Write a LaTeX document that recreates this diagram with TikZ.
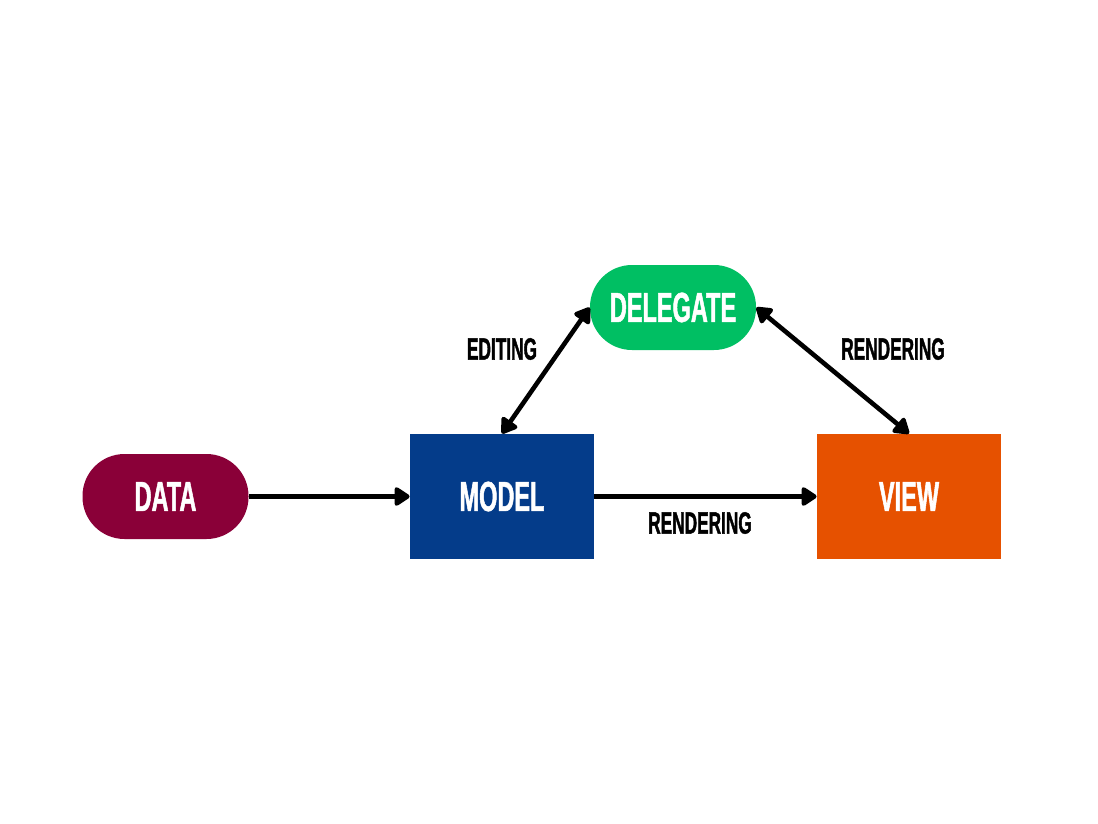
\documentclass[tikz,border=0pt]{standalone}
\usepackage{fontspec}
\setmainfont{Liberation Sans}[FakeStretch=0.56, BoldFeatures={FakeBold=1.2}]
\usetikzlibrary{shapes}
\usetikzlibrary{arrows.meta}

\definecolor{datared}{HTML}{8A0038}
\definecolor{modelblue}{HTML}{043C8A}
\definecolor{viewred}{HTML}{E65100}
\definecolor{delegategreen}{HTML}{00BF63}

\begin{document}
\begin{tikzpicture}[x=0.5pt, y=-0.5pt]

\tikzstyle{pill}=[rectangle, rounded corners=21pt, minimum width=83pt, minimum height=42.5pt, inner sep=0pt, text=white, font=\bfseries\fontsize{21}{21}\selectfont]
\tikzstyle{box}=[rectangle, minimum width=92pt, minimum height=62.5pt, inner sep=0pt, text=white, font=\bfseries\fontsize{21}{21}\selectfont]
\tikzstyle{lbl}=[font=\bfseries\fontsize{15.4}{15.4}\selectfont]

\tikzstyle{connect}=[-{Triangle[length=8.5pt,width=10.5pt,round]}, line width=2.3pt, line join=round]
\tikzstyle{both}=[{Triangle[length=8.5pt,width=10.5pt,round]}-{Triangle[length=8.5pt,width=10.5pt,round]}, line width=2.3pt, line join=round]

\useasboundingbox (0,0) rectangle (1098,824);

\node[pill, fill=datared] (data) at (165.5,496.5) {DATA};
\node[box, fill=modelblue] (model) at (502,496.5) {MODEL};
\node[box, fill=viewred] (view) at (909,496.5) {VIEW};
\node[pill, fill=delegategreen] (delegate) at (673,307.5) {DELEGATE};

\node[lbl] (editing) at (502,349) {EDITING};
\node[lbl] (render1) at (893,349) {RENDERING};
\node[lbl] (render2) at (700,523) {RENDERING};

\path (data) [connect] edge (model);
\path (model) [connect] edge (view);

\path (model.north) [both] edge (delegate.west);
\path (delegate.east) [both] edge (view.north);

\end{tikzpicture}
\end{document}
